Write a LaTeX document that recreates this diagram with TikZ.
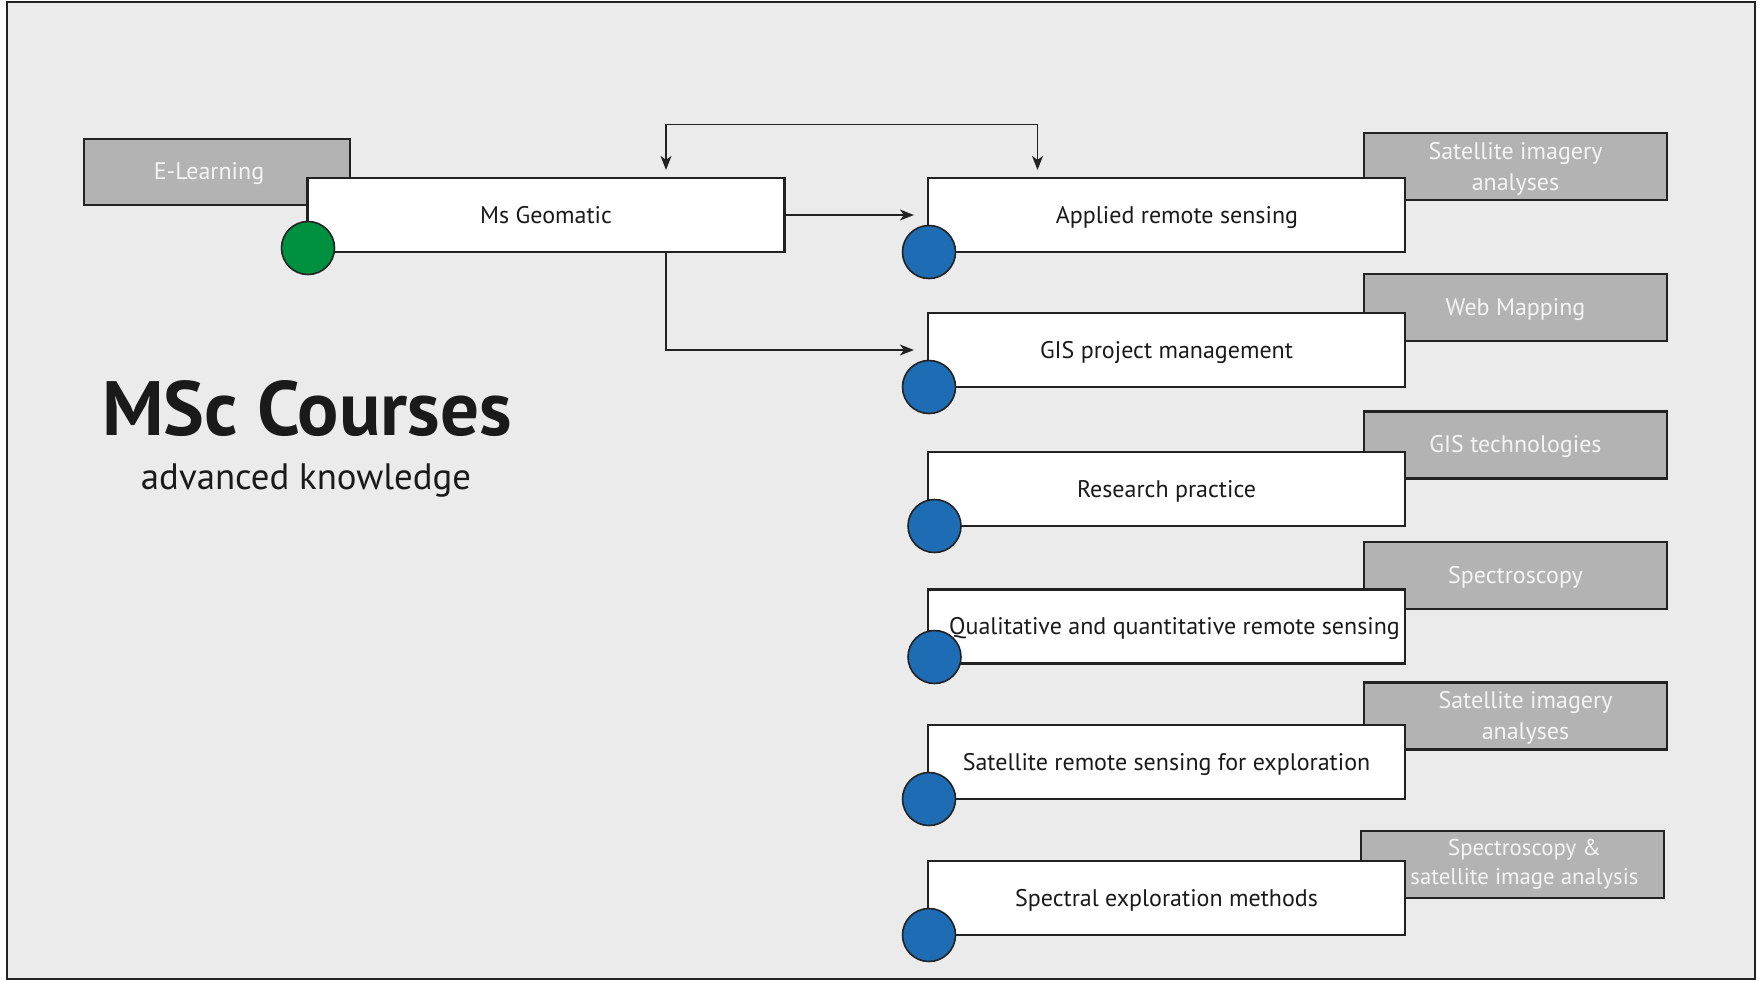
\documentclass[tikz,border=0pt]{standalone}
\usepackage{fontspec}
\setmainfont{PT Sans}
\usetikzlibrary{arrows.meta}
\definecolor{bg}{HTML}{EBEBEB}
\definecolor{tagfill}{HTML}{B3B3B3}
\definecolor{edge}{HTML}{222222}
\definecolor{ink}{HTML}{1A1A1A}
\definecolor{tagtext}{HTML}{F4F4F4}
\definecolor{dotgreen}{HTML}{009140}
\definecolor{dotblue}{HTML}{1E6CB4}
\newcommand{\lift}{\rule{0pt}{10.6pt}}
\begin{document}
\begin{tikzpicture}[x=0.5pt,y=-0.5pt,
  course/.style={draw=edge, line width=1.1pt, fill=white, minimum width=238.5pt,
    minimum height=37pt, inner sep=0pt, text=ink, text height=10pt, text depth=2pt,
    font=\fontsize{12}{14}\selectfont},
  tag/.style={draw=edge, line width=1.1pt, fill=tagfill, minimum width=151.5pt,
    minimum height=33.5pt, inner sep=0pt, align=center, text=tagtext,
    font=\fontsize{12}{15.5}\selectfont},
  tagone/.style={tag, text height=10pt, text depth=2.2pt},
  dot/.style={circle, draw=edge, line width=0.8pt, minimum size=26.5pt, inner sep=0pt},
  arr/.style={draw=edge, line width=0.75pt, -{Stealth[length=7pt,width=5.5pt,inset=2pt]}},
  darr/.style={draw=edge, line width=0.75pt, {Stealth[length=7pt,width=5.5pt,inset=2pt]}-{Stealth[length=7pt,width=5.5pt,inset=2pt]}},
]
\useasboundingbox (0,0) rectangle (1760,980);
\fill[white] (0,0) rectangle (1760,980);
\draw[edge, fill=bg, line width=1pt] (7,2) rectangle (1755,979);

% title
\node[anchor=base, inner sep=0pt, text=ink, font=\fontsize{38.5}{44}\selectfont\bfseries] (title) at (307,435) {MSc Courses};
\node[anchor=base, inner sep=0pt, text=ink, font=\fontsize{18.4}{22}\selectfont] (subtitle) at (306,489) {advanced knowledge};

% tags (behind)
\node[tagone, minimum width=133pt, minimum height=33pt] (el) at (217,172) {E-Learning\hspace*{8pt}};
\node[tag] (g1) at (1515.5,166.5) {\lift Satellite imagery\\analyses};
\node[tagone] (g2) at (1515.5,307.5) {Web Mapping};
\node[tagone] (g3) at (1515.5,445) {GIS technologies};
\node[tagone] (g4) at (1515.5,575.5) {Spectroscopy};
\node[tag] (g5) at (1515.5,716) {\lift\hspace*{10pt}Satellite imagery\\\hspace*{10pt}analyses};
\node[tag, font=\fontsize{11.4}{14.5}\selectfont] (g6) at (1512.5,864.5) {\hspace*{12pt}Spectroscopy \&\\\hspace*{12pt}satellite image analysis};

% main boxes
\node[course] (ms) at (546,215) {Ms Geomatic};
\node[course] (c1) at (1166.5,215) {\hspace*{10.5pt}Applied remote sensing};
\node[course] (c2) at (1166.5,350) {GIS project management};
\node[course] (c3) at (1166.5,489) {Research practice};
\node[course] (c4) at (1166.5,626.5) {\hspace*{8pt}Qualitative and quantitative remote sensing};
\node[course] (c5) at (1166.5,762) {Satellite remote sensing for exploration};
\node[course] (c6) at (1166.5,898) {Spectral exploration methods};

% dots
\node[dot, fill=dotgreen] (d0) at (308,248) {};
\node[dot, fill=dotblue] (d1) at (929,252) {};
\node[dot, fill=dotblue] (d2) at (929,387) {};
\node[dot, fill=dotblue] (d3) at (934.5,526) {};
\node[dot, fill=dotblue] (d4) at (934.5,657) {};
\node[dot, fill=dotblue] (d5) at (929,799) {};
\node[dot, fill=dotblue] (d6) at (929,935) {};

% connectors
\coordinate (topA) at ([xshift=60pt,yshift=3.5pt]ms.north);
\coordinate (topB) at ([xshift=-64.5pt,yshift=3.5pt]c1.north);
\coordinate (topbar) at (850,124.5);
\draw[darr] (topA) |- (topbar) -| (topB);
\draw[arr] (ms.east) -- ([xshift=-6.5pt]c1.west);
\draw[arr] ([xshift=60pt]ms.south) |- ([xshift=-6.5pt]c2.west);
\end{tikzpicture}
\end{document}
